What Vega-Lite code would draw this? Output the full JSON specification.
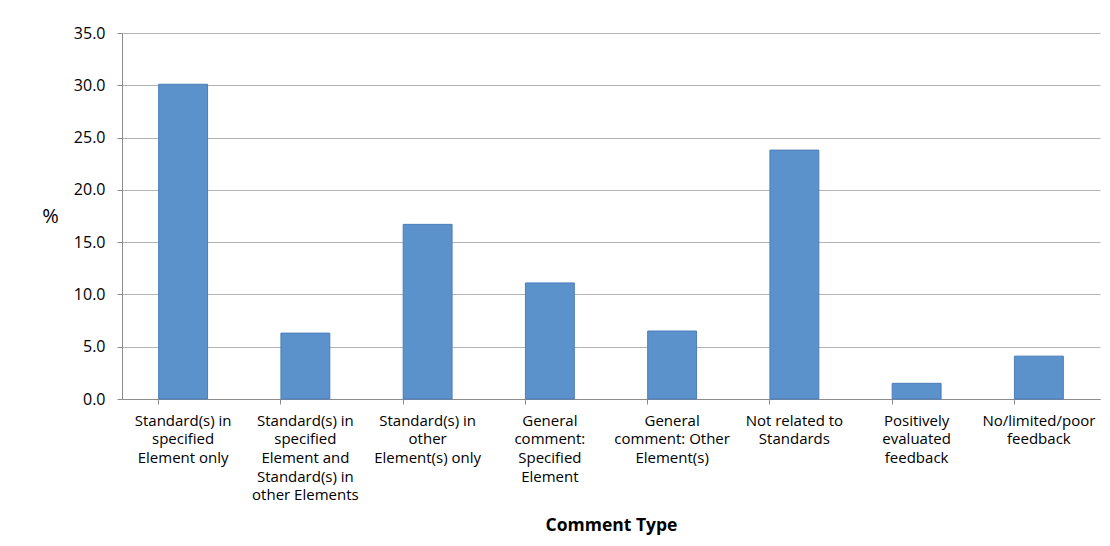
{
  "$schema": "https://vega.github.io/schema/vega-lite/v6.json",
  "autosize": {"type": "none"},
  "padding": {"left": 122, "top": 33, "right": 10, "bottom": 147},
  "width": 978,
  "height": 366,
  "background": "#ffffff",
  "config": {
    "view": {"stroke": null},
    "font": "Open Sans"
  },
  "data": {
    "values": [
      {"type": "Standard(s) in\nspecified\nElement only", "pct": 30.1},
      {"type": "Standard(s) in\nspecified\nElement and\nStandard(s) in\nother Elements", "pct": 6.3},
      {"type": "Standard(s) in\nother\nElement(s) only", "pct": 16.7},
      {"type": "General\ncomment:\nSpecified\nElement", "pct": 11.1},
      {"type": "General\ncomment: Other\nElement(s)", "pct": 6.5},
      {"type": "Not related to\nStandards", "pct": 23.8},
      {"type": "Positively\nevaluated\nfeedback", "pct": 1.5},
      {"type": "No/limited/poor\nfeedback", "pct": 4.1}
    ]
  },
  "mark": {"type": "bar", "color": "#5b92cb", "stroke": "#4a7dba", "strokeWidth": 1},
  "encoding": {
    "x": {
      "field": "type",
      "type": "nominal",
      "sort": null,
      "scale": {"paddingInner": 0.6, "paddingOuter": 0.3},
      "axis": {
        "title": "Comment Type",
        "titleFont": "Open Sans",
        "titleFontSize": 17.5,
        "titleFontWeight": "bold",
        "titleColor": "#000000",
        "titlePadding": 14,
        "labelExpr": "split(datum.label, '\\n')",
        "labelAngle": 0,
        "labelFontSize": 15,
        "labelColor": "#000000",
        "labelLineHeight": 18.7,
        "labelBaseline": "middle",
        "labelPadding": 16,
        "labelLimit": 200,
        "bandPosition": 0,
        "tickSize": 5,
        "tickColor": "#8c8c8c",
        "domainColor": "#8c8c8c",
        "grid": false
      }
    },
    "y": {
      "field": "pct",
      "type": "quantitative",
      "scale": {"domain": [0, 35], "nice": false},
      "axis": {
        "title": "%",
        "titleAngle": 0,
        "titleFontSize": 20,
        "titleFontWeight": "normal",
        "titleColor": "#000000",
        "titleAlign": "center",
        "titleBaseline": "middle",
        "titleX": -72,
        "titleY": 183,
        "values": [0, 5, 10, 15, 20, 25, 30, 35],
        "format": ".1f",
        "labelFontSize": 16,
        "labelColor": "#000000",
        "labelPadding": 12,
        "tickSize": 5,
        "tickColor": "#8c8c8c",
        "domainColor": "#8c8c8c",
        "gridColor": "#b3b3b3",
        "gridWidth": 1
      }
    }
  }
}
